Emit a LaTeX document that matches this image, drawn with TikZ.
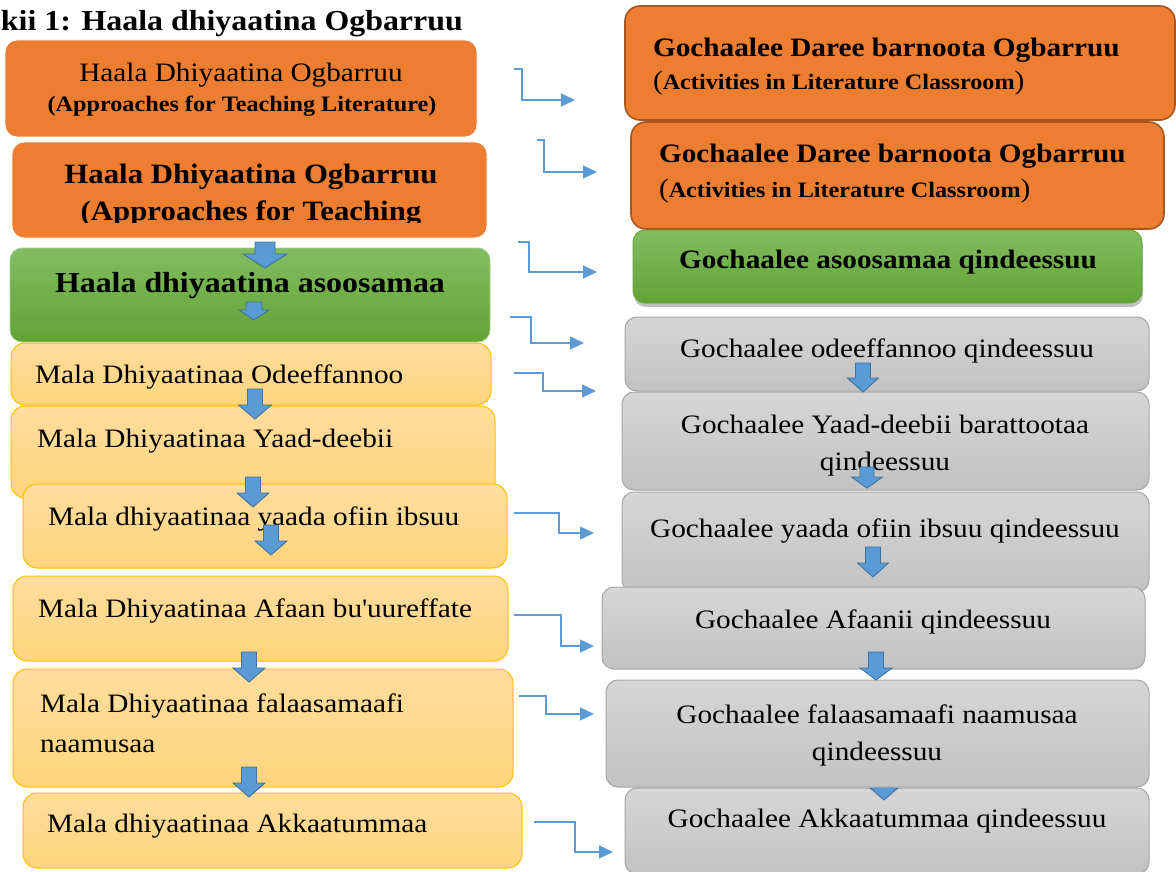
\documentclass[tikz,border=0pt]{standalone}
\usepackage{fontspec}
\setmainfont{Liberation Serif}[FakeStretch=1.1]
\usetikzlibrary{arrows.meta,shadows}
\definecolor{orng}{HTML}{ED7D31}
\definecolor{orngdk}{HTML}{A9561E}
\definecolor{grntop}{HTML}{82BC60}
\definecolor{grnbot}{HTML}{62A336}
\definecolor{ylwtop}{HTML}{FFDD9E}
\definecolor{ylwbot}{HTML}{FFD47C}
\definecolor{ylwdr}{HTML}{FFC000}
\definecolor{grytop}{HTML}{D6D6D6}
\definecolor{grybot}{HTML}{C2C2C2}
\definecolor{grydr}{HTML}{A5A5A5}
\definecolor{blu}{HTML}{5B9BD5}
\definecolor{bludk}{HTML}{41719C}
\tikzset{
  boxbase/.style={inner sep=0pt, outer sep=0pt},
  obox/.style={boxbase, fill=orng, draw=white, line width=0.8pt, rounded corners=12pt},
  obbox/.style={boxbase, fill=orng, draw=orngdk, line width=1.6pt, rounded corners=15pt},
  gbox/.style={boxbase, top color=grntop, bottom color=grnbot, draw=grntop!70!white, line width=0.8pt, rounded corners=12pt},
  ybox/.style={boxbase, top color=ylwtop, bottom color=ylwbot, draw=ylwdr, line width=1pt, rounded corners=14pt},
  sbox/.style={boxbase, top color=grytop, bottom color=grybot, draw=grydr, line width=1pt, rounded corners=12pt},
  barrow/.style={fill=blu, draw=bludk, line width=0.9pt, line join=miter},
  conn/.style={draw=blu, line width=1.3pt, -{Triangle[length=14pt,width=13pt]}},
  tnorm/.style={inner sep=0pt, outer sep=0pt, font=\fontsize{26.6}{30}\selectfont},
  tbold/.style={inner sep=0pt, outer sep=0pt, font=\fontsize{26.6}{30}\selectfont\bfseries},
  tbig/.style={inner sep=0pt, outer sep=0pt, font=\fontsize{29}{33}\selectfont\bfseries},
  tbmid/.style={inner sep=0pt, outer sep=0pt, font=\fontsize{28}{32}\selectfont\bfseries},
  tsmall/.style={inner sep=0pt, outer sep=0pt, font=\fontsize{22}{26}\selectfont\bfseries},
}
\newcommand\bigparen[1]{{\fontsize{26.6}{30}\selectfont\mdseries #1}}
% box: style, x1, y1, x2, y2, name
\newcommand\bx[6]{\node[#1, anchor=north west, minimum width={#4-#2}, minimum height={#5-#3}] (#6) at (#2,#3) {};}
% down block arrow: cx, ytop, ytip, shaftw, headw, headlen
\newcommand\dnarrow[6]{\filldraw[barrow] ({#1-#4/2},#2) -- ({#1+#4/2},#2) -- ({#1+#4/2},{#3-#6}) -- ({#1+#5/2},{#3-#6}) -- (#1,#3) -- ({#1-#5/2},{#3-#6}) -- ({#1-#4/2},{#3-#6}) -- cycle;}
\begin{document}
\begin{tikzpicture}[x=1pt,y=-1pt]
\fill[white] (0,0) rectangle (1176,872);
\useasboundingbox (0,0) rectangle (1176,872);

% title
\node[tbig, anchor=base west] (title) at (1,31) {kii 1: Haala dhiyaatina Ogbarruu};

% ---------- left column ----------
\bx{obox}{5}{40}{477}{137}{L1}
\node[tnorm, anchor=base] (L1a) at (241,82) {Haala Dhiyaatina Ogbarruu};
\node[tsmall, anchor=base] (L1b) at (242,112) {(Approaches for Teaching Literature)};

\bx{obox}{12}{142}{487}{238}{L2}
\node[tbmid, anchor=base] (L2a) at (251,183) {Haala Dhiyaatina Ogbarruu};
\begin{scope}
\clip (0,0) rectangle (1176,222);
\node[tbmid, anchor=base] (L2b) at (251,221) {(Approaches for Teaching};
\end{scope}

\bx{gbox}{10}{248}{490}{342}{L3}
\node[tbig, anchor=base] (L3a) at (250,292) {Haala dhiyaatina asoosamaa};
\dnarrow{265}{242}{268}{20}{44}{14}
\dnarrow{254}{302}{320}{16}{30}{10}

\bx{ybox}{11}{343}{491}{405}{Y1}
\node[tnorm, anchor=base west] (Y1a) at (35,383) {Mala Dhiyaatinaa Odeeffannoo};
\bx{ybox}{11}{406}{495}{498}{Y2}
\node[tnorm, anchor=base west] (Y2a) at (37,447) {Mala Dhiyaatinaa Yaad-deebii};
\dnarrow{255}{389}{419}{15}{33}{14}
\bx{ybox}{23}{484}{507}{568}{Y3}
\node[tnorm, anchor=base west] (Y3a) at (48,525) {Mala dhiyaatinaa yaada ofiin ibsuu};
\dnarrow{253}{477}{507}{15}{32}{14}
\dnarrow{271}{525}{555}{15}{32}{14}

\bx{ybox}{13}{576}{508}{661}{Y4}
\node[tnorm, anchor=base west] (Y4a) at (38,617) {Mala Dhiyaatinaa Afaan bu\textquotesingle uureffate};
\bx{ybox}{13}{669}{513}{787}{Y5}
\node[tnorm, anchor=base west] (Y5a) at (40,712) {Mala Dhiyaatinaa falaasamaafi};
\node[tnorm, anchor=base west] (Y5b) at (40,752) {naamusaa};
\dnarrow{249}{652}{682}{15}{32}{14}
\bx{ybox}{23}{793}{522}{868}{Y6}
\node[tnorm, anchor=base west] (Y6a) at (47,832) {Mala dhiyaatinaa Akkaatummaa};
\dnarrow{249}{767}{797}{15}{32}{14}

% ---------- right column ----------
\bx{obbox}{625}{6}{1175}{120}{R1}
\node[tbold, anchor=base west] (R1a) at (653,57) {Gochaalee Daree barnoota Ogbarruu};
\node[tsmall, anchor=base west] (R1b) at (653,90) {\bigparen{(}Activities in Literature Classroom\bigparen{)}};
\bx{obbox}{631}{122}{1164}{229}{R2}
\node[tbold, anchor=base west] (R2a) at (659,163) {Gochaalee Daree barnoota Ogbarruu};
\node[tsmall, anchor=base west] (R2b) at (659,197) {\bigparen{(}Activities in Literature Classroom\bigparen{)}};
\node[gbox, draw=grnbot, anchor=north west, minimum width=509, minimum height=73,
      drop shadow={shadow xshift=1pt, shadow yshift=-4pt, opacity=0.25, fill=black}] (R3) at (633,230) {};
\node[tbold, anchor=base] (R3a) at (888,268) {Gochaalee asoosamaa qindeessuu};

\bx{sbox}{625}{317}{1149}{391}{G1}
\node[tnorm, anchor=base] (G1a) at (887,357) {Gochaalee odeeffannoo qindeessuu};
\bx{sbox}{622}{392}{1149}{490}{G2}
\node[tnorm, anchor=base] (G2a) at (885,433) {Gochaalee Yaad-deebii barattootaa};
\node[tnorm, anchor=base] (G2b) at (885,470) {qindeessuu};
\dnarrow{863}{363}{392}{15}{31}{14}
\dnarrow{867}{467}{488}{14}{31}{11}
\bx{sbox}{622}{492}{1149}{592}{G3}
\node[tnorm, anchor=base] (G3a) at (885,537) {Gochaalee yaada ofiin ibsuu qindeessuu};
\dnarrow{873}{547}{577}{15}{31}{14}
\bx{sbox}{602}{587}{1145}{669}{G4}
\node[tnorm, anchor=base] (G4a) at (873,628) {Gochaalee Afaanii qindeessuu};
\bx{sbox}{625}{788}{1149}{874}{G6}
\node[tnorm, anchor=base] (G6a) at (887,827) {Gochaalee Akkaatummaa qindeessuu};
\dnarrow{884}{770}{800}{14}{28}{12}
\bx{sbox}{606}{680}{1149}{787}{G5}
\node[tnorm, anchor=base] (G5a) at (877,723) {Gochaalee falaasamaafi naamusaa};
\node[tnorm, anchor=base] (G5b) at (877,760) {qindeessuu};
\dnarrow{876}{652}{680}{15}{32}{12}

% ---------- elbow connectors ----------
\coordinate (c1s) at (514,69);  \coordinate (c1e) at (575,100);
\coordinate (c2s) at (537,140); \coordinate (c2e) at (597,172);
\coordinate (c3s) at (518,242); \coordinate (c3e) at (597,272);
\coordinate (c4s) at (510,317); \coordinate (c4e) at (584,343);
\coordinate (c5s) at (514,373); \coordinate (c5e) at (596,391);
\coordinate (c6s) at (514,513); \coordinate (c6e) at (594,533);
\coordinate (c7s) at (514,615); \coordinate (c7e) at (594,646);
\coordinate (c8s) at (519,696); \coordinate (c8e) at (594,714);
\coordinate (c9s) at (534,822); \coordinate (c9e) at (613,852);
\draw[conn] (c1s) -- ++(8,0) |- (c1e);
\draw[conn] (c2s) -- ++(7,0) |- (c2e);
\draw[conn] (c3s) -- ++(11,0) |- (c3e);
\draw[conn] (c4s) -- ++(21,0) |- (c4e);
\draw[conn] (c5s) -- ++(29,0) |- (c5e);
\draw[conn] (c6s) -- ++(45,0) |- (c6e);
\draw[conn] (c7s) -- ++(47,0) |- (c7e);
\draw[conn] (c8s) -- ++(27,0) |- (c8e);
\draw[conn] (c9s) -- ++(41,0) |- (c9e);
\end{tikzpicture}
\end{document}
